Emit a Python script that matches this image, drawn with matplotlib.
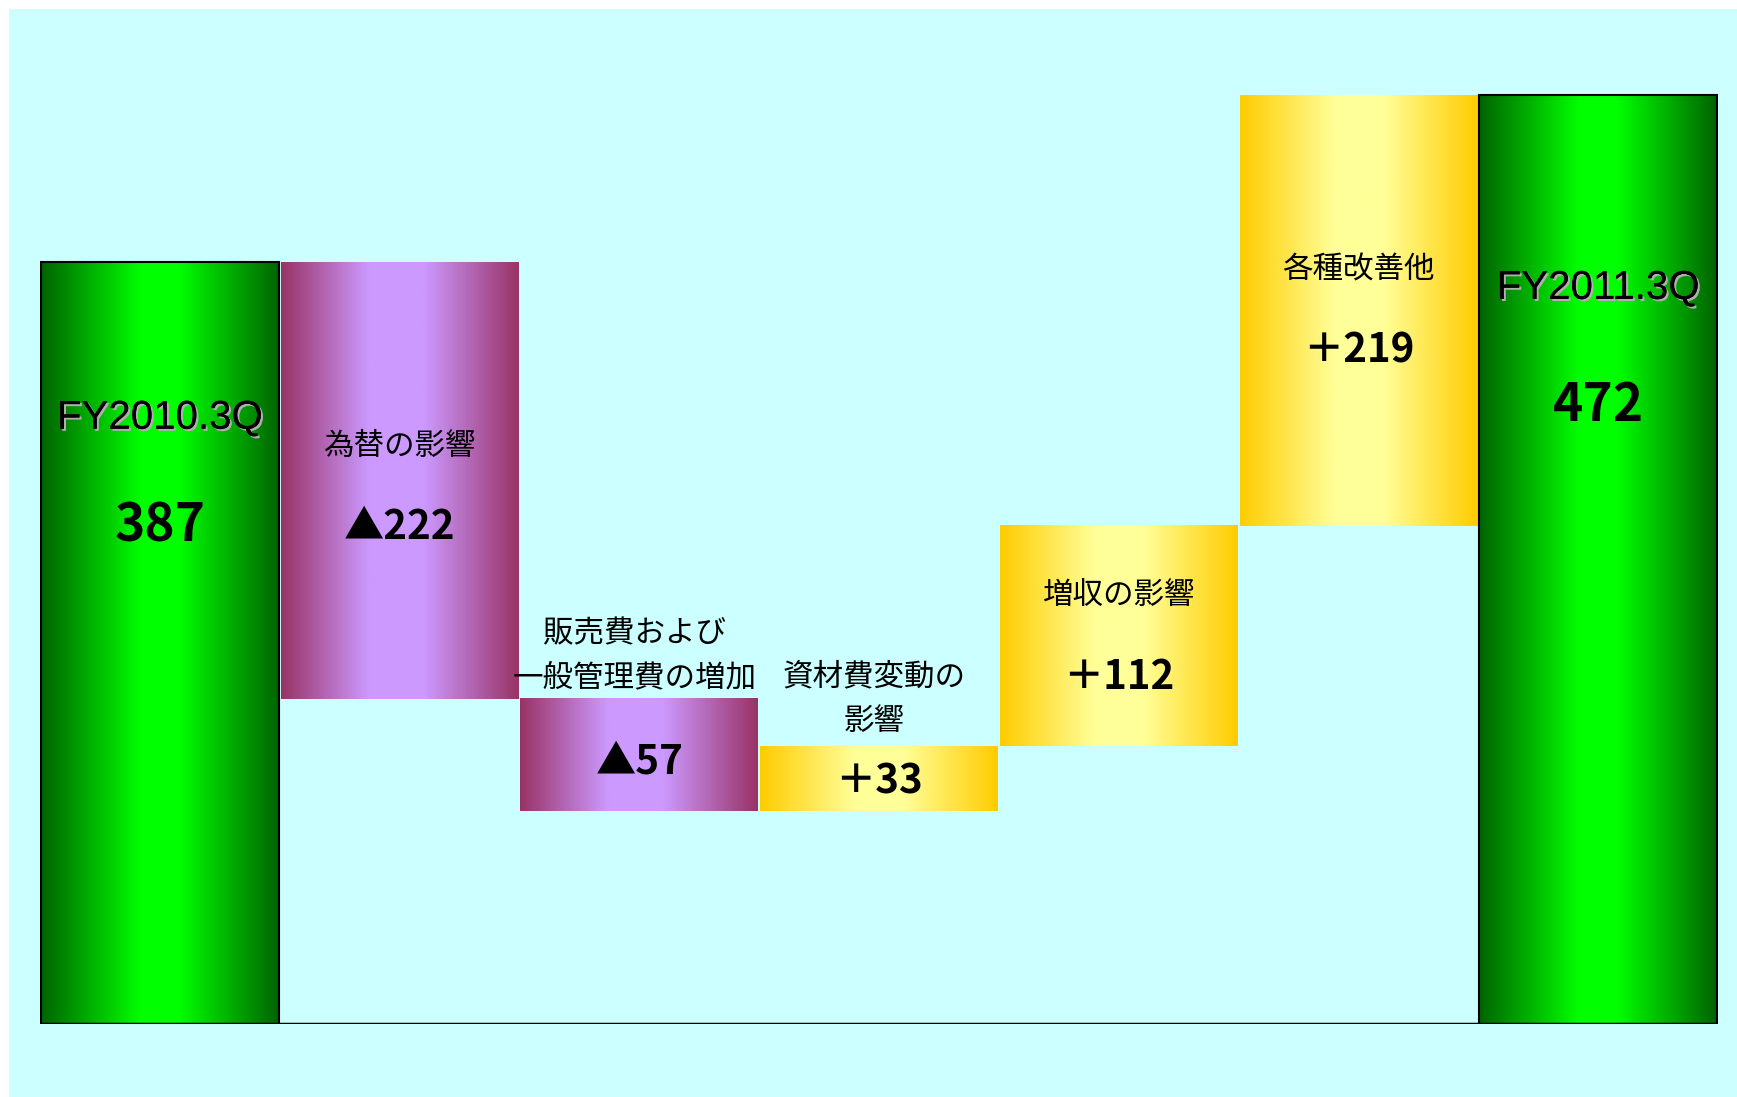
import matplotlib
matplotlib.use("Agg")
import matplotlib.pyplot as plt
import matplotlib.patheffects as pe
from matplotlib.colors import LinearSegmentedColormap
from matplotlib.patches import Rectangle
from matplotlib import font_manager
import numpy as np

plt.rcParams['font.family'] = ['Noto Sans CJK JP', 'DejaVu Sans']

# chart data
categories = ['FY2010.3Q', '為替の影響', '販売費および\n一般管理費の増加',
              '資材費変動の\n影響', '増収の影響', '各種改善他', 'FY2011.3Q']
changes = [387, -222, -57, 33, 112, 219, 472]
kinds = ['total', 'neg', 'neg', 'pos', 'pos', 'pos', 'total']
value_labels = ['387', '▲222', '▲57', '＋33', '＋112', '＋219', '472']

# label placement (data units): centre of category text, centre of value text
label_y = [308, 293.5, 187, 165, 217.5, 383, 374]
value_y = [253, 252, 133, 123, 176, 342, 314]

# waterfall bottoms / heights
bottoms = []
heights = []
running = 0
for c, k in zip(changes, kinds):
    if k == 'total':
        bottoms.append(0)
        heights.append(c)
        running = c
    else:
        new = running + c
        bottoms.append(min(running, new))
        heights.append(abs(c))
        running = new

cmaps = {
    'total': LinearSegmentedColormap.from_list(
        'g', [(0, '#006400'), (0.42, '#00ff00'), (0.58, '#00ff00'), (1, '#006400')]),
    'neg': LinearSegmentedColormap.from_list(
        'p', [(0, '#993366'), (0.37, '#cc99ff'), (0.6, '#cc99ff'), (1, '#993366')]),
    'pos': LinearSegmentedColormap.from_list(
        'y', [(0, '#ffcc00'), (0.4, '#ffff99'), (0.6, '#ffff99'), (1, '#ffcc00')]),
}

names = {f.name for f in font_manager.fontManager.ttflist}
if 'Liberation Sans Narrow' in names:
    fy_font, fy_size = 'Liberation Sans Narrow', 34
else:
    fy_font, fy_size = 'Liberation Sans', 29

W, H = 1737, 1097
fig = plt.figure(figsize=(W / 100, H / 100), dpi=100)
fig.patch.set_facecolor('white')
fig.patches.append(Rectangle((9 / W, 0), 1 - 9 / W, 1 - 9 / H, transform=fig.transFigure,
                             facecolor='#ccffff', edgecolor='none', zorder=-5))

ax = fig.add_axes([40 / W, 73.4 / H, (1718 - 40) / W, (1024 - 9) / H])
ax.set_facecolor('none')
for s in ax.spines.values():
    s.set_visible(False)
ax.set_xticks([])
ax.set_yticks([])

x = np.arange(len(categories))
bars = ax.bar(x, heights, bottom=bottoms, width=0.992, facecolor='none',
              edgecolor='none', zorder=3)

grad = np.linspace(0, 1, 256).reshape(1, -1)
for i, rect in enumerate(bars):
    x0, y0 = rect.get_x(), rect.get_y()
    w, h = rect.get_width(), rect.get_height()
    ax.imshow(grad, cmap=cmaps[kinds[i]], extent=[x0, x0 + w, y0, y0 + h],
              aspect='auto', zorder=2, interpolation='bicubic')
    if kinds[i] == 'total':
        rect.set_edgecolor('black')
        rect.set_linewidth(1.5)
ax.set_xlim(-0.5, 6.5)
ax.set_ylim(0, 516)

ax.axhline(0, color='black', lw=2.5, zorder=4)

shadow = [pe.withSimplePatchShadow(offset=(1.5, -1.5), shadow_rgbFace='#b0b0b0', alpha=1),
          pe.Normal()]

for i, cat in enumerate(categories):
    if kinds[i] == 'total':
        ax.text(x[i], label_y[i], cat, ha='center', va='center', fontsize=fy_size,
                family=[fy_font, 'DejaVu Sans'], color='black', path_effects=shadow, zorder=5)
        ax.text(x[i], value_y[i], value_labels[i], ha='center', va='center',
                fontsize=37, fontweight='bold', zorder=5)
    else:
        lines = cat.split('\n')
        n = len(lines)
        dx = -0.02 if n > 1 else 0
        for j, line in enumerate(lines):
            yy = label_y[i] + (n - 1) / 2 * 22.8 - j * 22.8
            ax.text(x[i] + dx, yy, line, ha='center', va='center', fontsize=22, zorder=5)
        ax.text(x[i], value_y[i], value_labels[i], ha='center', va='center',
                fontsize=29, fontweight='bold', zorder=5)

fig.savefig('out.png', dpi=100)
